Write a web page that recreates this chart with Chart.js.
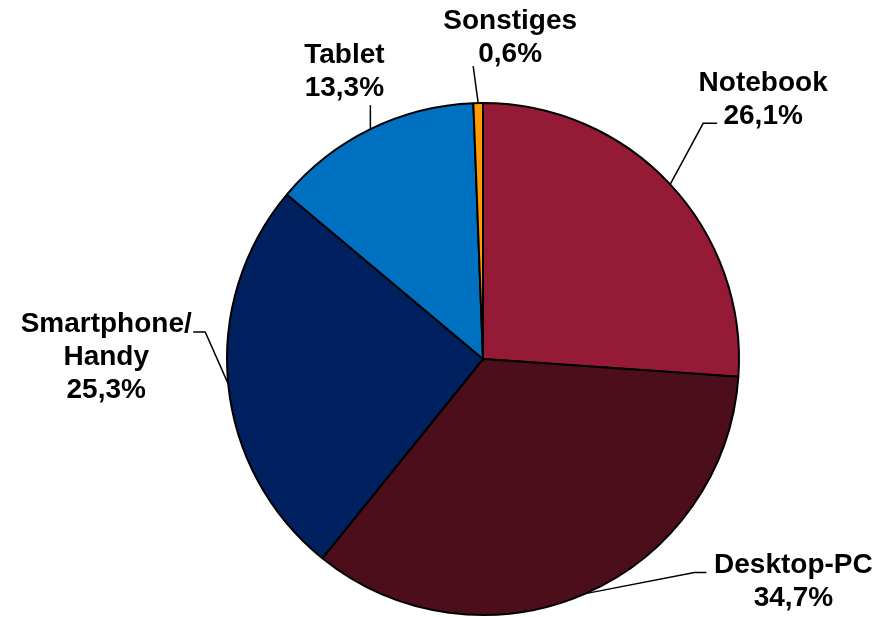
<!DOCTYPE html>
<html>
<head>
<meta charset="utf-8">
<script src="https://cdn.jsdelivr.net/npm/chart.js@4"></script>
<style>
  html, body { margin: 0; padding: 0; background: #ffffff; }
  #wrap { width: 878px; height: 617px; }
</style>
</head>
<body>
<div id="wrap"><canvas id="pieChart" width="878" height="617"></canvas></div>
<script>
/* --------------- Data --------------------- */
const categories = ["Notebook", "Desktop-PC", "Smartphone/\nHandy", "Tablet", "Sonstiges"];
const shares = [26.1, 34.7, 25.3, 13.3, 0.6];
const sliceColors = ["#941A35", "#4C0E1B", "#00205F", "#0070C0", "#FF9A00"];

/* --------------- Label placement (offsets from the slice's edge point) --------------------- */
// knee = bend of the leader line, end = where it stops, text = center x / first baseline
const labelSpots = [
  { knee: [33, -61], end: [47, -61], text: [93, -93] },
  { knee: [109, -21], end: [121, -21], text: [208, -21] },
  { knee: [-23, -52], end: [-35, -52], text: [-122, -52] },
  { knee: [0, -24], end: [0, -24], text: [-26, -66] },
  { knee: [-5, -37], end: [-5, -37], text: [32, -74] },
];
const lineGap = 33;

const fmt = (v) => v.toFixed(1).replace(".", ",") + "%";

/* --------------- Outside labels with leader lines --------------------- */
const outsideLabels = {
  id: "outsideLabels",
  afterDatasetsDraw(chart) {
    const ctx = chart.ctx;
    const arcs = chart.getDatasetMeta(0).data;
    ctx.save();
    ctx.strokeStyle = "#000000";
    ctx.lineWidth = 1.5;
    ctx.fillStyle = "#000000";
    ctx.font = "bold 28px 'Liberation Sans', Arial, sans-serif";
    ctx.textAlign = "center";
    ctx.textBaseline = "alphabetic";
    arcs.forEach((arc, i) => {
      const p = arc.getProps(["x", "y", "startAngle", "endAngle", "outerRadius"], true);
      const mid = (p.startAngle + p.endAngle) / 2;
      const ax = p.x + Math.cos(mid) * p.outerRadius;
      const ay = p.y + Math.sin(mid) * p.outerRadius;
      const s = labelSpots[i];
      ctx.beginPath();
      ctx.moveTo(ax, ay);
      ctx.lineTo(ax + s.knee[0], ay + s.knee[1]);
      ctx.lineTo(ax + s.end[0], ay + s.end[1]);
      ctx.stroke();
      const lines = categories[i].split("\n").concat([fmt(shares[i])]);
      lines.forEach((ln, k) => {
        ctx.fillText(ln, ax + s.text[0], ay + s.text[1] + k * lineGap);
      });
    });
    ctx.restore();
  },
};

/* --------------- Chart --------------------- */
new Chart(document.getElementById("pieChart"), {
  type: "pie",
  plugins: [outsideLabels],
  data: {
    labels: categories,
    datasets: [
      {
        data: shares,
        backgroundColor: sliceColors,
        borderColor: "#000000",
        borderWidth: 2,
      },
    ],
  },
  options: {
    responsive: false,
    animation: false,
    layout: { padding: { left: 226, right: 138, top: 102, bottom: 1 } },
    plugins: {
      legend: { display: false },
      tooltip: { enabled: false },
    },
  },
});
</script>
</body>
</html>
